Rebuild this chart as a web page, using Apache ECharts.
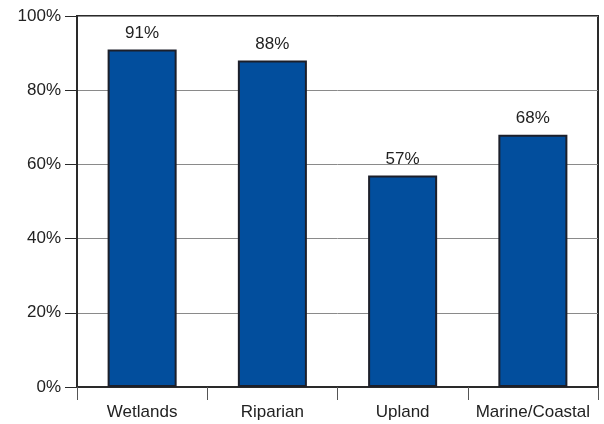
<!DOCTYPE html>
<html><head><meta charset="utf-8">
<script src="https://cdn.jsdelivr.net/npm/echarts@6/dist/echarts.min.js"></script>
<style>html,body{margin:0;padding:0;background:#fff}#c{width:604px;height:424px}</style>
</head><body><div id="c"></div>
<script>
const categories = ['Wetlands', 'Riparian', 'Upland', 'Marine/Coastal'];
const values = [91, 88, 57, 68];
const yTicks = [0, 20, 40, 60, 80, 100];

const chart = echarts.init(document.getElementById('c'), null, {renderer: 'canvas'});
chart.setOption({
  animation: false,
  grid: {left: 77, right: 6, top: 16, bottom: 37, show: true, borderColor: '#2a2a2a', borderWidth: 2, backgroundColor: 'transparent'},
  xAxis: {
    type: 'category', data: categories, boundaryGap: true,
    axisLine: {lineStyle: {color: '#2a2a2a', width: 2}},
    axisTick: {show: true, interval: 0, length: 13, alignWithLabel: false, lineStyle: {color: '#555', width: 1}},
    axisLabel: {interval: 0, hideOverlap: false, color: '#222', fontSize: 17, fontFamily: 'Liberation Sans, Arial', margin: 17}
  },
  yAxis: {
    type: 'value', min: 0, max: 100, interval: 20,
    axisLine: {show: true, lineStyle: {color: '#2a2a2a', width: 2}},
    axisTick: {show: true, length: 12, lineStyle: {color: '#2a2a2a', width: 1}},
    axisLabel: {color: '#222', fontSize: 17, fontFamily: 'Liberation Sans, Arial', margin: 16,
      formatter: v => yTicks.includes(v) ? v + '%' : ''},
    splitLine: {show: true, lineStyle: {color: '#8a8a8a', width: 1}}
  },
  series: [{
    type: 'bar', data: values, barWidth: '53%',
    itemStyle: {color: '#024e9d', borderColor: '#1c1f2a', borderWidth: 2},
    label: {show: true, position: 'top', distance: 8, formatter: p => p.value + '%',
      color: '#222', fontSize: 17, fontFamily: 'Liberation Sans, Arial'}
  }]
});
</script></body></html>
